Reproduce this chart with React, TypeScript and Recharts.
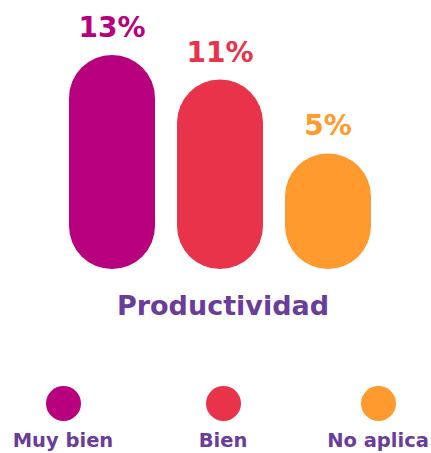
import React from 'react';
import { BarChart, Bar, XAxis, YAxis, Cell, LabelList } from 'recharts';

const categories = ['Muy bien', 'Bien', 'No aplica'];
const values = [13, 11, 5];
const colors = ['#B8007E', '#E8334A', '#FF9A2E'];
const title = 'Productividad';

const data = categories.map((name, i) => ({ name, value: values[i] }));

const FONT = '"DejaVu Sans", Verdana, sans-serif';
const PURPLE = '#6A3D9A';

// pill bar: from the value down to the bottom of the plot area
const PillBar = (props: any) => {
  const { x, y, width, height, fill, background } = props;
  const bottom = background ? background.y + background.height : y + height;
  const h = bottom - y;
  const r = width / 2;
  return <rect x={x} y={y} width={width} height={h} rx={r} ry={r} fill={fill} />;
};

const ValueLabel = (props: any) => {
  const { x, y, width, value, index } = props;
  return (
    <text
      x={x + width / 2}
      y={y - 18}
      textAnchor="middle"
      fill={colors[index]}
      fontFamily={FONT}
      fontWeight="bold"
      fontSize={28}
    >
      {value}%
    </text>
  );
};

const legendX = [63, 223, 378];

export default function App() {
  return (
    <div style={{ position: 'absolute', top: 0, left: 0, width: 431, height: 453, background: '#fff', fontFamily: FONT }}>
      <BarChart
        width={431}
        height={453}
        data={data}
        margin={{ top: 0, right: 49, left: 58, bottom: 184 }}
      >
        <XAxis dataKey="name" hide />
        <YAxis hide domain={[-4.4, 17.47]} allowDataOverflow />
        <Bar dataKey="value" barSize={86} shape={<PillBar />} isAnimationActive={false}>
          {data.map((d, i) => (
            <Cell key={d.name} fill={colors[i]} />
          ))}
          <LabelList dataKey="value" content={<ValueLabel />} />
        </Bar>
      </BarChart>
      <div
        style={{
          position: 'absolute',
          top: 289,
          left: 0,
          width: 446,
          textAlign: 'center',
          color: PURPLE,
          fontWeight: 'bold',
          fontSize: 27,
          lineHeight: '34px',
        }}
      >
        {title}
      </div>
      {categories.map((c, i) => (
        <div
          key={c}
          style={{
            position: 'absolute',
            left: legendX[i] - 60,
            top: 386,
            width: 120,
            textAlign: 'center',
          }}
        >
          <div
            style={{
              width: 35,
              height: 35,
              borderRadius: '50%',
              background: colors[i],
              margin: '0 auto',
            }}
          />
          <div style={{ color: PURPLE, fontWeight: 'bold', fontSize: 19.5, marginTop: 8, lineHeight: '24px' }}>
            {c}
          </div>
        </div>
      ))}
    </div>
  );
}
